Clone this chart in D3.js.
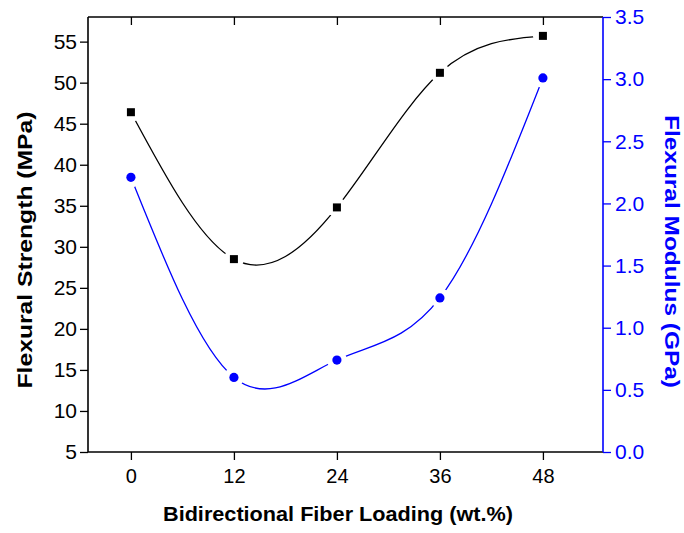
<!DOCTYPE html>
<meta charset="utf-8">
<style>
    body { margin: 0; background: #fff; }
    text { font-family: "Liberation Sans", Arial, sans-serif; }
    .tickLabel { font-size: 20px; }
    .tickLabelY { font-size: 21px; }
    .axisTitle { font-size: 21px; font-weight: bold; }
</style>
<body>
<script src="https://cdn.jsdelivr.net/npm/d3@7"></script>
<script>
    // data
    var loadings = [0, 12, 24, 36, 48];
    var strength = [46.4, 28.5, 34.8, 51.2, 55.7];
    var modulus = [2.21, 0.60, 0.74, 1.24, 3.01];

    var xTickValues = [0, 12, 24, 36, 48];
    var xMinorValues = [6, 18, 30, 42, 54];
    var leftTickValues = [5, 10, 15, 20, 25, 30, 35, 40, 45, 50, 55];
    var leftMinorValues = [7.5, 12.5, 17.5, 22.5, 27.5, 32.5, 37.5, 42.5, 47.5, 52.5, 57.5];
    var rightTickValues = [0, 0.5, 1.0, 1.5, 2.0, 2.5, 3.0, 3.5];
    var rightMinorValues = [0.25, 0.75, 1.25, 1.75, 2.25, 2.75, 3.25];

    var width = 684, height = 533;
    var plot = {left: 88, right: 603, top: 17, bottom: 452};

    var x = d3.scaleLinear().domain([-5, 55]).range([plot.left, plot.right]);
    var yL = d3.scaleLinear().domain([5, 58]).range([plot.bottom, plot.top]);
    var yR = d3.scaleLinear().domain([0, 3.5]).range([plot.bottom, plot.top]);

    var svg = d3.select("body").append("svg").attr("width", width).attr("height", height);

    var strengthData = loadings.map(function(d, i) { return {x: d, y: strength[i]}; });
    var modulusData = loadings.map(function(d, i) { return {x: d, y: modulus[i]}; });

    // masks so the lines stop short of the markers
    var defs = svg.append("defs");
    function makeMask(id, data, yScale) {
        var m = defs.append("mask").attr("id", id).attr("maskUnits", "userSpaceOnUse")
            .attr("x", 0).attr("y", 0).attr("width", width).attr("height", height);
        m.append("rect").attr("width", width).attr("height", height).attr("fill", "white");
        m.selectAll("circle").data(data).enter().append("circle")
            .attr("cx", function(d) { return x(d.x); })
            .attr("cy", function(d) { return yScale(d.y); })
            .attr("r", 10).attr("fill", "black");
    }
    makeMask("maskS", strengthData, yL);
    makeMask("maskM", modulusData, yR);

    var lineS = d3.line().curve(d3.curveNatural)
        .x(function(d) { return x(d.x); }).y(function(d) { return yL(d.y); });
    var lineM = d3.line().curve(d3.curveNatural)
        .x(function(d) { return x(d.x); }).y(function(d) { return yR(d.y); });

    svg.append("path").datum(strengthData).attr("d", lineS)
        .attr("fill", "none").attr("stroke", "black").attr("stroke-width", 1.3)
        .attr("mask", "url(#maskS)");
    svg.append("path").datum(modulusData).attr("d", lineM)
        .attr("fill", "none").attr("stroke", "#0000ff").attr("stroke-width", 1.3)
        .attr("mask", "url(#maskM)");

    // markers
    svg.selectAll(".sq").data(strengthData).enter().append("rect").attr("class", "sq")
        .attr("x", function(d) { return x(d.x) - 4; })
        .attr("y", function(d) { return yL(d.y) - 4; })
        .attr("width", 8).attr("height", 8).attr("fill", "black");
    svg.selectAll(".dot").data(modulusData).enter().append("circle").attr("class", "dot")
        .attr("cx", function(d) { return x(d.x); })
        .attr("cy", function(d) { return yR(d.y); })
        .attr("r", 4.6).attr("fill", "#0000ff");

    // bottom axis
    var gB = svg.append("g").attr("transform", "translate(0," + plot.bottom + ")");
    gB.call(d3.axisBottom(x).tickValues(xMinorValues).tickSize(5).tickFormat(""));
    gB.call(d3.axisBottom(x).tickValues(xTickValues).tickSize(8).tickPadding(8.5).tickFormat(d3.format("d")));
    gB.selectAll("text").attr("class", "tickLabel").attr("fill", "black");

    // top axis, mirrored ticks pointing in
    var gT = svg.append("g").attr("transform", "translate(0," + plot.top + ")");
    gT.call(d3.axisBottom(x).tickValues(xMinorValues).tickSize(6).tickFormat(""));
    gT.call(d3.axisBottom(x).tickValues(xTickValues).tickSize(8).tickFormat(""));

    // left axis
    var gL = svg.append("g").attr("transform", "translate(" + plot.left + ",0)");
    gL.call(d3.axisLeft(yL).tickValues(leftMinorValues).tickSize(5).tickFormat(""));
    gL.call(d3.axisLeft(yL).tickValues(leftTickValues).tickSize(8).tickPadding(3).tickFormat(d3.format("d")));
    gL.selectAll("text").attr("class", "tickLabelY").attr("fill", "black");

    // right axis in blue
    var gR = svg.append("g").attr("transform", "translate(" + plot.right + ",0)");
    gR.call(d3.axisRight(yR).tickValues(rightMinorValues).tickSize(5).tickFormat(""));
    gR.call(d3.axisRight(yR).tickValues(rightTickValues).tickSize(8).tickPadding(4).tickFormat(d3.format(".1f")));
    gR.selectAll("text").attr("class", "tickLabelY").attr("fill", "#0000ff");
    gR.selectAll("line").attr("stroke", "#0000ff");
    gR.selectAll("path").attr("stroke", "#0000ff");

    svg.selectAll(".domain").attr("stroke-width", 1.6);
    svg.selectAll(".tick line").attr("stroke-width", 1.3);
    // plain axis lines, no outer ticks
    gT.selectAll(".domain").attr("d", "M" + plot.left + ",0H" + plot.right);
    gB.selectAll(".domain").attr("d", "M" + plot.left + ",0H" + plot.right);
    gL.selectAll(".domain").attr("d", "M0," + plot.top + "V" + plot.bottom);
    gR.selectAll(".domain").attr("d", "M0," + plot.top + "V" + plot.bottom);

    // axis titles
    svg.append("text").attr("class", "axisTitle")
        .attr("x", 338).attr("y", 521).attr("text-anchor", "middle")
        .attr("textLength", 350).attr("lengthAdjust", "spacingAndGlyphs")
        .text("Bidirectional Fiber Loading (wt.%)");
    svg.append("text").attr("class", "axisTitle")
        .attr("transform", "translate(31.5,250) rotate(-90)").attr("text-anchor", "middle")
        .attr("textLength", 277).attr("lengthAdjust", "spacingAndGlyphs")
        .text("Flexural Strength (MPa)");
    svg.append("text").attr("class", "axisTitle").attr("fill", "#0000ff")
        .attr("transform", "translate(665,251.5) rotate(90)").attr("text-anchor", "middle")
        .attr("textLength", 273).attr("lengthAdjust", "spacingAndGlyphs")
        .text("Flexural Modulus (GPa)");
</script>
</body>
